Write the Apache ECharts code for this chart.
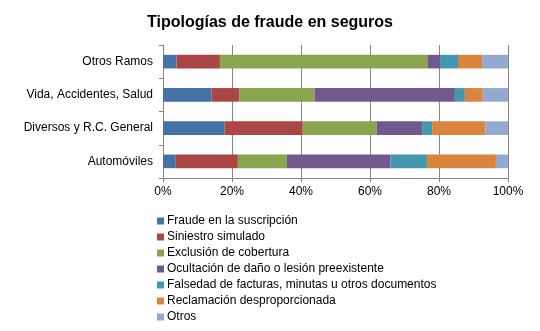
<!DOCTYPE html>
<html><head><meta charset="utf-8">
<script src="https://cdn.jsdelivr.net/npm/echarts@6/dist/echarts.min.js"></script>
<style>html,body{margin:0;padding:0;background:#fff}#c{width:540px;height:331px}</style>
</head><body><div id="c"></div>
<script>
const categories = ['Automóviles', 'Diversos y R.C. General', 'Vida, Accidentes, Salud', 'Otros Ramos'];
const seriesNames = ['Fraude en la suscripción', 'Siniestro simulado', 'Exclusión de cobertura', 'Ocultación de daño o lesión preexistente', 'Falsedad de facturas, minutas u otros documentos', 'Reclamación desproporcionada', 'Otros'];
const fraudeSuscripcion = [3.7, 17.8, 14.1, 3.9];
const siniestroSimulado = [18.0, 22.7, 8.1, 12.6];
const exclusionCobertura = [14.2, 21.5, 21.8, 60.3];
const ocultacionDano = [30.0, 13.1, 40.6, 3.5];
const falsedadFacturas = [10.6, 2.9, 2.9, 5.2];
const reclamacionDesp = [20.0, 15.4, 5.2, 7.0];
const otros = [3.5, 6.6, 7.3, 7.5];
const xTicks = [0, 20, 40, 60, 80, 100];
const colors = ['#4572A7', '#AA4643', '#89A54E', '#71588F', '#4198AF', '#DB843D', '#93A9CF'];
const values = [fraudeSuscripcion, siniestroSimulado, exclusionCobertura, ocultacionDano, falsedadFacturas, reclamacionDesp, otros];

const chart = echarts.init(document.getElementById('c'), null, {renderer: 'canvas'});
chart.setOption({
  animation: false,
  backgroundColor: '#fff',
  textStyle: {fontFamily: 'Liberation Sans, Arial, sans-serif'},
  title: {
    text: 'Tipologías de fraude en seguros',
    left: 'center', top: 10,
    textStyle: {fontSize: 16, fontWeight: 'bold', color: '#000', fontFamily: 'Liberation Sans, Arial, sans-serif'}
  },
  legend: {
    orient: 'vertical', left: 157, top: 215, height: 116,
    padding: [0, 0, 0, 0],
    itemWidth: 7, itemHeight: 7, itemGap: 4,
    icon: 'rect',
    textStyle: {fontSize: 12, color: '#000', padding: [0, 0, 0, -2]},
    data: seriesNames
  },
  grid: {left: 163, right: 32, top: 45, bottom: 153, containLabel: false},
  xAxis: {
    type: 'value', min: xTicks[0], max: xTicks[xTicks.length - 1], interval: 20,
    axisLine: {show: true, lineStyle: {color: '#868686'}},
    axisTick: {show: true, length: 4, lineStyle: {color: '#868686'}},
    axisLabel: {formatter: '{value}%', color: '#000', fontSize: 12, margin: 8},
    splitLine: {show: true, lineStyle: {color: '#868686', width: 1}}
  },
  yAxis: {
    type: 'category', data: categories,
    axisLine: {show: true, lineStyle: {color: '#868686'}},
    axisTick: {show: true, length: 4, lineStyle: {color: '#868686'}},
    axisLabel: {color: '#000', fontSize: 12, margin: 10}
  },
  series: seriesNames.map((n, i) => ({
    name: n, type: 'bar', stack: 'total', data: values[i],
    barWidth: '41%',
    itemStyle: {color: colors[i]}
  }))
});
</script></body></html>
